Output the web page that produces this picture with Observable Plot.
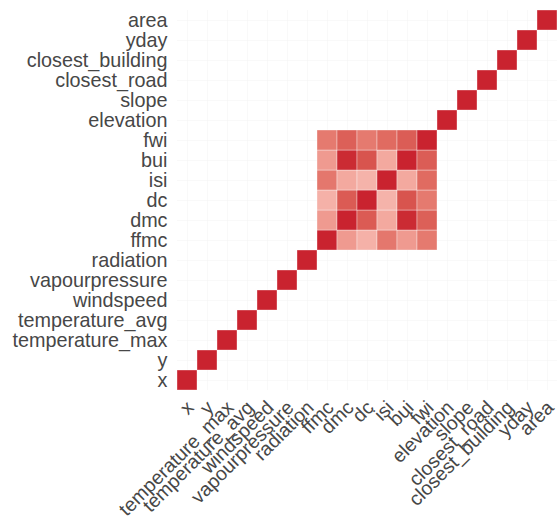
<!DOCTYPE html>
<html><head><meta charset="utf-8">
<script src="https://cdn.jsdelivr.net/npm/d3@7"></script>
<script src="https://cdn.jsdelivr.net/npm/@observablehq/plot@0.6"></script>
<style>body{margin:0;background:#fff}</style>
</head><body><div id="chart"></div>
<script>
const variables = ["x","y","temperature_max","temperature_avg","windspeed","vapourpressure","radiation","ffmc","dmc","dc","isi","bui","fwi","elevation","slope","closest_road","closest_building","yday","area"];
const fireIndexVars = ["ffmc","dmc","dc","isi","bui","fwi"];
const fireIndexCorr = [
  [1.00,0.50,0.39,0.67,0.50,0.66],
  [0.50,1.00,0.80,0.43,0.98,0.78],
  [0.39,0.80,1.00,0.38,0.83,0.66],
  [0.67,0.43,0.38,1.00,0.43,0.73],
  [0.50,0.98,0.83,0.43,1.00,0.79],
  [0.66,0.78,0.66,0.73,0.79,1.00]
];
const selfCorr = 1;

const cells = [];
for (const v of variables) {
  if (!fireIndexVars.includes(v)) cells.push({a: v, b: v, r: selfCorr});
}
fireIndexVars.forEach((rv, i) => fireIndexVars.forEach((cv, j) => cells.push({a: cv, b: rv, r: fireIndexCorr[i][j]})));

const plot = Plot.plot({
  width: 557, height: 520,
  marginLeft: 177, marginRight: 0, marginTop: 10, marginBottom: 130,
  style: {fontFamily: "'Liberation Sans', Arial, sans-serif", fontSize: "19.8px", color: "#474747", background: "white"},
  x: {domain: variables, padding: 0, label: null},
  y: {domain: variables.slice().reverse(), padding: 0, label: null},
  color: {type: "linear", domain: [0, 1], range: ["#ffffff", "#C9232F"], interpolate: "lab"},
  marks: [
    Plot.gridX({stroke: "#f2f2f2", strokeOpacity: 1, strokeWidth: 0.5}),
    Plot.gridY({stroke: "#f2f2f2", strokeOpacity: 1, strokeWidth: 0.5}),
    Plot.cell(cells, {x: "a", y: "b", fill: "r", stroke: "white", strokeWidth: 0.7, strokeOpacity: 0.5}),
    Plot.axisY({tickSize: 0, tickPadding: 10, label: null, fontSize: 19.8}),
    Plot.axisX({tickSize: 0, tickPadding: 8, tickRotate: -45, label: null, fontSize: 19.5, dx: 3, dy: 6})
  ]
});
document.getElementById("chart").appendChild(plot);
</script>
</body></html>
